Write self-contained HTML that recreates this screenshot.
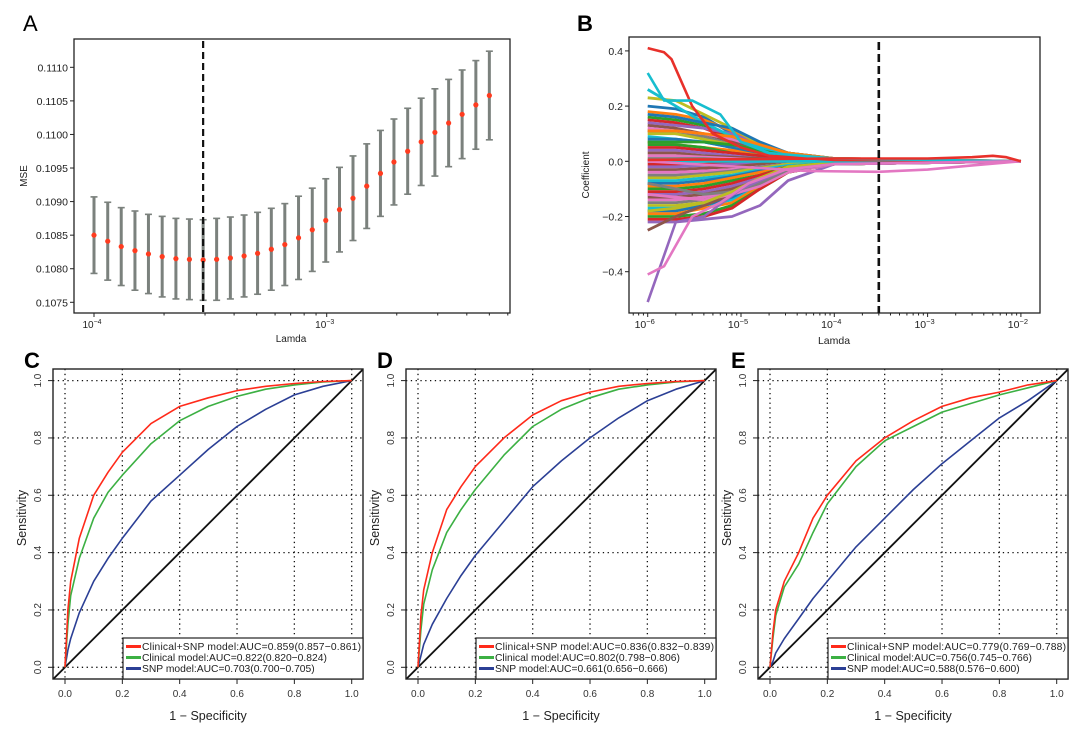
<!DOCTYPE html>
<html><head><meta charset="utf-8">
<style>
body{margin:0;background:#fff;}
svg{display:block;font-family:"Liberation Sans",sans-serif;}
</style></head>
<body>
<svg id="fig" width="1080" height="729" viewBox="0 0 1080 729">
<text x="23" y="31" font-size="22">A</text>
<text x="577" y="31" font-size="22" font-weight="bold">B</text>
<text x="24" y="368" font-size="22" font-weight="bold">C</text>
<text x="377" y="368" font-size="22" font-weight="bold">D</text>
<text x="731" y="368" font-size="22" font-weight="bold">E</text>
<g id="gA"></g>
<g id="gB"></g>
<g id="gC"></g>
<g id="gD"></g>
<g id="gE"></g>
</svg>
<script>
// ---------- Panel A data ----------
const aMSE = [0.10850,0.10841,0.10833,0.10827,0.10822,0.10818,0.10815,0.10814,0.10813,0.10814,0.10816,0.10819,0.10823,0.10829,0.10836,0.10846,0.10858,0.10872,0.10888,0.10905,0.10923,0.10942,0.10959,0.10975,0.10989,0.11003,0.11017,0.11030,0.11044,0.11058];
const aErr = [0.00057,0.00058,0.00058,0.00059,0.00059,0.00060,0.00060,0.00060,0.00060,0.00061,0.00061,0.00061,0.00061,0.00061,0.00061,0.00062,0.00062,0.00062,0.00063,0.00063,0.00063,0.00064,0.00064,0.00064,0.00065,0.00065,0.00065,0.00066,0.00066,0.00066];
const aLogLambda = [-4.000,-3.941,-3.883,-3.824,-3.766,-3.707,-3.648,-3.590,-3.531,-3.473,-3.414,-3.355,-3.297,-3.238,-3.180,-3.121,-3.062,-3.004,-2.945,-2.887,-2.828,-2.769,-2.711,-2.652,-2.594,-2.535,-2.476,-2.418,-2.359,-2.301];
const aYTicks = [0.1075,0.1080,0.1085,0.1090,0.1095,0.1100,0.1105,0.1110];
const aYTickLabels = ["0.1075","0.1080","0.1085","0.1090","0.1095","0.1100","0.1105","0.1110"];
const aBestLogLambda = -3.531;

// ---------- Panel B data ----------
const bLambdaGrid = [1e-6,2e-6,4e-6,8e-6,1.6e-5,3.2e-5,1e-4,1e-2];
const bPaths = [
[0.2,0.19,0.16,0.1,0.05,0.02,0.005,0],[0.18,0.17,0.15,0.11,0.06,0.03,0.01,0],[0.16,0.15,0.13,0.09,0.05,0.02,0.005,0],
[0.15,0.14,0.12,0.08,0.04,0.02,0.005,0],[0.14,0.13,0.12,0.1,0.06,0.03,0.01,0],[0.13,0.12,0.1,0.07,0.04,0.015,0.005,0],
[0.12,0.11,0.1,0.08,0.05,0.02,0.005,0],[0.11,0.1,0.09,0.06,0.03,0.01,0,0],[0.1,0.1,0.08,0.06,0.04,0.02,0.005,0],
[0.09,0.08,0.07,0.05,0.03,0.01,0,0],[0.08,0.08,0.07,0.05,0.02,0.01,0,0],[0.07,0.06,0.05,0.04,0.02,0.01,0,0],
[0.06,0.06,0.05,0.03,0.02,0.01,0,0],[0.05,0.05,0.04,0.03,0.02,0.005,0,0],[0.04,0.04,0.03,0.02,0.01,0.005,0,0],
[0.03,0.03,0.02,0.015,0.01,0,0,0],[0.02,0.02,0.015,0.01,0.005,0,0,0],[0.01,0.01,0.01,0.005,0,0,0,0],
[0.23,0.22,0.17,0.12,0.06,0.03,0.01,0],[0.26,0.2,0.14,0.09,0.05,0.02,0.005,0],[0.17,0.16,0.14,0.12,0.07,0.03,0.01,0],
[0.11,0.11,0.1,0.09,0.06,0.03,0.01,0],[0.07,0.07,0.07,0.06,0.04,0.02,0.005,0],
[-0.01,-0.01,-0.01,-0.005,0,0,0,0],[-0.02,-0.02,-0.015,-0.01,-0.005,0,0,0],[-0.03,-0.03,-0.025,-0.02,-0.01,0,0,0],
[-0.04,-0.04,-0.035,-0.03,-0.02,-0.01,0,0],[-0.05,-0.05,-0.045,-0.035,-0.02,-0.01,0,0],[-0.06,-0.06,-0.05,-0.04,-0.025,-0.01,0,0],
[-0.07,-0.07,-0.06,-0.05,-0.03,-0.015,-0.005,0],[-0.08,-0.08,-0.07,-0.055,-0.035,-0.02,-0.005,0],[-0.09,-0.09,-0.08,-0.06,-0.04,-0.02,-0.005,0],
[-0.1,-0.1,-0.09,-0.07,-0.05,-0.02,-0.005,0],[-0.11,-0.11,-0.1,-0.08,-0.05,-0.025,-0.005,0],[-0.12,-0.12,-0.11,-0.09,-0.06,-0.03,-0.01,0],
[-0.13,-0.13,-0.12,-0.1,-0.07,-0.03,-0.01,0],[-0.14,-0.14,-0.13,-0.11,-0.08,-0.03,-0.01,0],[-0.15,-0.15,-0.14,-0.12,-0.08,-0.03,-0.01,0],
[-0.16,-0.16,-0.15,-0.13,-0.09,-0.04,-0.01,0],[-0.17,-0.17,-0.16,-0.14,-0.09,-0.04,-0.01,0],[-0.18,-0.18,-0.16,-0.13,-0.08,-0.03,-0.01,0],
[-0.19,-0.19,-0.17,-0.15,-0.09,-0.04,-0.01,0],[-0.2,-0.2,-0.19,-0.16,-0.1,-0.04,-0.01,0],[-0.21,-0.21,-0.2,-0.17,-0.1,-0.04,-0.01,0],
[-0.22,-0.22,-0.21,-0.2,-0.16,-0.07,-0.01,0],[-0.25,-0.2,-0.16,-0.12,-0.08,-0.03,-0.01,0],[-0.12,-0.13,-0.14,-0.12,-0.09,-0.04,-0.01,0],
[-0.08,-0.1,-0.12,-0.11,-0.08,-0.03,-0.01,0],[-0.18,-0.17,-0.15,-0.11,-0.06,-0.02,-0.005,0],[0.0,0.0,0.0,0.0,0.0,0.0,0.0,0]
];
const bSpecialLambda = [[1e-6,1.5e-6,1.8e-6,3e-6,5e-6,1e-5,2e-5,1e-4,1e-2],[1e-6,1.5e-6,3e-6,6e-6,1e-5,2e-5,1e-4,1e-2],[1e-6,2e-6,4e-6,1e-5,3e-5,1e-4,1e-2],[1e-6,1.5e-6,3e-6,6e-6,1.2e-5,3e-5,1e-4,1e-2],[1e-6,3e-5,5e-5,3e-4,1e-3,3e-3,1e-2],[1e-6,1e-4,1e-3,3e-3,5e-3,7e-3,1e-2]];
const bSpecialValues = [[0.41,0.395,0.37,0.2,0.1,0.05,0.02,0.005,0],[0.32,0.22,0.22,0.17,0.07,0.03,0.01,0],[-0.51,-0.22,-0.2,-0.1,-0.03,-0.01,0],[-0.41,-0.38,-0.2,-0.15,-0.08,-0.03,-0.01,0],[0,-0.03,-0.035,-0.038,-0.03,-0.015,0],[0.005,0.01,0.01,0.015,0.02,0.015,0]];
const bSpecialColors = ["#e8302a","#17becf","#9467bd","#e377c2","#e377c2","#e8302a"];
const bYTicks = [-0.4,-0.2,0.0,0.2,0.4];
const bYTickLabels = ["\u22120.4","\u22120.2","0.0","0.2","0.4"];
const bXTickExp = [-6,-5,-4,-3,-2];
const bBestLambda = 3e-4;

// ---------- ROC data ----------
const rocFpr = [0,0.01,0.02,0.05,0.1,0.15,0.2,0.3,0.4,0.5,0.6,0.7,0.8,0.9,1];
const cTprCombined = [0,0.2,0.3,0.45,0.6,0.68,0.75,0.85,0.91,0.94,0.965,0.98,0.99,0.997,1];
const cTprClinical = [0,0.15,0.25,0.38,0.52,0.61,0.67,0.78,0.86,0.91,0.945,0.97,0.985,0.995,1];
const cTprSnp = [0,0.06,0.1,0.19,0.3,0.38,0.45,0.58,0.67,0.76,0.84,0.9,0.95,0.98,1];
const dTprCombined = [0,0.18,0.27,0.4,0.55,0.63,0.7,0.8,0.88,0.93,0.96,0.98,0.99,0.997,1];
const dTprClinical = [0,0.13,0.22,0.34,0.47,0.55,0.62,0.74,0.84,0.9,0.94,0.97,0.985,0.995,1];
const dTprSnp = [0,0.04,0.08,0.15,0.24,0.32,0.39,0.51,0.63,0.72,0.8,0.87,0.93,0.97,1];
const eTprCombined = [0,0.12,0.2,0.3,0.4,0.52,0.6,0.72,0.8,0.86,0.91,0.94,0.96,0.985,1];
const eTprClinical = [0,0.1,0.18,0.28,0.36,0.47,0.57,0.7,0.79,0.84,0.89,0.92,0.95,0.975,1];
const eTprSnp = [0,0.02,0.05,0.1,0.17,0.24,0.3,0.42,0.52,0.62,0.71,0.79,0.87,0.93,1];
const cLegend = ["Clinical+SNP model:AUC=0.859(0.857\u22120.861)","Clinical model:AUC=0.822(0.820\u22120.824)","SNP model:AUC=0.703(0.700\u22120.705)"];
const dLegend = ["Clinical+SNP model:AUC=0.836(0.832\u22120.839)","Clinical model:AUC=0.802(0.798\u22120.806)","SNP model:AUC=0.661(0.656\u22120.666)"];
const eLegend = ["Clinical+SNP model:AUC=0.779(0.769\u22120.788)","Clinical model:AUC=0.756(0.745\u22120.766)","SNP model:AUC=0.588(0.576\u22120.600)"];
const rocTicks = [0,0.2,0.4,0.6,0.8,1.0];
const rocTickLabels = ["0.0","0.2","0.4","0.6","0.8","1.0"];

const NS="http://www.w3.org/2000/svg";
function mk(parent,tag,attrs,text){const e=document.createElementNS(NS,tag);for(const k in attrs)e.setAttribute(k,attrs[k]);if(text!==undefined)e.textContent=text;parent.appendChild(e);return e;}

// ---------- Panel A ----------
(function(){
const g=document.getElementById('gA');
const xA=l=>94+(l+4)*232.7, yA=v=>302.3-(v-0.1075)/0.0005*33.57;
mk(g,'rect',{x:74,y:39,width:436,height:274,fill:'none',stroke:'#222','stroke-width':1.3});
aYTicks.forEach((t,i)=>{const y=yA(t);mk(g,'line',{x1:70,x2:74,y1:y,y2:y,stroke:'#222'});
 const tl=mk(g,'text',{x:68,y:y+4,'font-size':10.5,'text-anchor':'end',fill:'#222'},aYTickLabels[i]);
 });
for(let d=-4;d<=-2;d++){for(let m=1;m<10;m++){const l=d+Math.log10(m);const x=xA(l);if(x<74||x>510)continue;
 mk(g,'line',{x1:x,x2:x,y1:313,y2:m==1?317:315.5,stroke:'#222'});}}
[-4,-3].forEach(e=>{const t=mk(g,'text',{x:xA(e)-2,y:328,'font-size':10,'text-anchor':'middle',fill:'#222'},'10');
 mk(t,'tspan',{dy:-4,'font-size':7},'\u2212'+(-e));});
const xl=mk(g,'text',{x:291,y:342,'font-size':10,'text-anchor':'middle',fill:'#222'},'Lamda');

const yl=mk(g,'text',{x:0,y:0,'font-size':10,'text-anchor':'middle',fill:'#222',transform:'translate(27,176) rotate(-90)'},'MSE');

aMSE.forEach((v,i)=>{const x=xA(aLogLambda[i]);const y1=yA(v+aErr[i]),y2=yA(v-aErr[i]);
 const b=mk(g,'line',{x1:x,x2:x,y1:y1,y2:y2,stroke:'#7b817d','stroke-width':3});
 
 mk(g,'line',{x1:x-3.5,x2:x+3.5,y1:y1,y2:y1,stroke:'#7b817d','stroke-width':1.6});
 mk(g,'line',{x1:x-3.5,x2:x+3.5,y1:y2,y2:y2,stroke:'#7b817d','stroke-width':1.6});});
aMSE.forEach((v,i)=>{const c=mk(g,'circle',{cx:xA(aLogLambda[i]),cy:yA(v),r:2.6,fill:'#ff3b1f'});
 });
const dl=mk(g,'line',{x1:xA(aBestLogLambda),x2:xA(aBestLogLambda),y1:41,y2:313,stroke:'#111','stroke-width':2.2,'stroke-dasharray':'7,4'});

})();

// ---------- Panel B ----------
(function(){
const g=document.getElementById('gB');
const xB=l=>647.7+(Math.log10(l)+6)*93.3, yB=v=>161.3-v*276;
const cols=["#1f77b4","#ff7f0e","#2ca02c","#d62728","#9467bd","#8c564b","#e377c2","#7f7f7f","#bcbd22","#17becf"];
const clip=mk(g,'clipPath',{id:'clipB'});mk(clip,'rect',{x:630,y:38,width:409,height:274});
const lg=mk(g,'g',{'clip-path':'url(#clipB)'});
bPaths.forEach((p,i)=>{const pts=p.map((v,j)=>xB(bLambdaGrid[j]).toFixed(1)+','+yB(v).toFixed(1)).join(' ');
 const pl=mk(lg,'polyline',{points:pts,fill:'none',stroke:cols[i%10],'stroke-width':2.8,'stroke-linejoin':'round'});
 });
bSpecialValues.forEach((p,i)=>{const pts=p.map((v,j)=>xB(bSpecialLambda[i][j]).toFixed(1)+','+yB(v).toFixed(1)).join(' ');
 const pl=mk(lg,'polyline',{points:pts,fill:'none',stroke:bSpecialColors[i],'stroke-width':2.6,'stroke-linejoin':'round'});
 });
mk(g,'rect',{x:629,y:37,width:411,height:276,fill:'none',stroke:'#222','stroke-width':1.3});
bYTicks.forEach((t,i)=>{const y=yB(t);mk(g,'line',{x1:625,x2:629,y1:y,y2:y,stroke:'#222'});
 const tl=mk(g,'text',{x:623,y:y+4,'font-size':10.5,'text-anchor':'end',fill:'#222'},bYTickLabels[i]);
 });
for(let d=-7;d<=-2;d++){for(let m=1;m<10;m++){const v=m*Math.pow(10,d);const x=xB(v);if(x<629||x>1040)continue;
 mk(g,'line',{x1:x,x2:x,y1:313,y2:m==1?317:315.5,stroke:'#222'});}}
bXTickExp.forEach(e=>{const t=mk(g,'text',{x:xB(Math.pow(10,e))-3,y:328,'font-size':10.5,'text-anchor':'middle',fill:'#222'},'10');
 mk(t,'tspan',{dy:-4,'font-size':7.5},'\u2212'+(-e));});
const xl=mk(g,'text',{x:834,y:344,'font-size':10.5,'text-anchor':'middle',fill:'#222'},'Lamda');

const yl=mk(g,'text',{x:0,y:0,'font-size':10,'text-anchor':'middle',fill:'#222',transform:'translate(589,175) rotate(-90)'},'Coefficient');

const dl=mk(g,'line',{x1:xB(bBestLambda),x2:xB(bBestLambda),y1:42,y2:313,stroke:'#111','stroke-width':2.6,'stroke-dasharray':'8,4'});

})();

// ---------- ROC panels ----------
function roc(id,L,tprs,legend){
const g=document.getElementById(id);
const x0=L+12, sc=286.7, xR=v=>x0+v*sc, yR=v=>667.3-v*sc;
const cid='clip'+id;const clip=mk(g,'clipPath',{id:cid});mk(clip,'rect',{x:L,y:369,width:310,height:310});
rocTicks.forEach(t=>{mk(g,'line',{x1:xR(t),x2:xR(t),y1:369,y2:679,stroke:'#111','stroke-width':1.3,'stroke-dasharray':'1.3,3.5'});
 mk(g,'line',{x1:L,x2:L+310,y1:yR(t),y2:yR(t),stroke:'#111','stroke-width':1.3,'stroke-dasharray':'1.3,3.5'});});
const cg=mk(g,'g',{'clip-path':'url(#'+cid+')'});
const diag=mk(cg,'line',{x1:xR(-0.05),y1:yR(-0.05),x2:xR(1.05),y2:yR(1.05),stroke:'#111','stroke-width':1.8});

const cols=['#ff2a1a','#3cb043','#2b3f95'];const names=['combined-roc-curve','clinical-roc-curve','snp-roc-curve'];
[2,1,0].forEach(k=>{const t=tprs[k];const pts=rocFpr.map((f,j)=>xR(f).toFixed(1)+','+yR(t[j]).toFixed(1)).join(' ');
 const pl=mk(cg,'polyline',{points:pts,fill:'none',stroke:cols[k],'stroke-width':1.6,'stroke-linejoin':'round'});
 });
mk(g,'rect',{x:L,y:369,width:310,height:310,fill:'none',stroke:'#222','stroke-width':1.4});
rocTicks.forEach((t,i)=>{mk(g,'line',{x1:xR(t),x2:xR(t),y1:679,y2:684,stroke:'#222'});
 const tx=mk(g,'text',{x:xR(t),y:697,'font-size':10,'text-anchor':'middle',fill:'#333'},rocTickLabels[i]);
 
 mk(g,'line',{x1:L-5,x2:L,y1:yR(t),y2:yR(t),stroke:'#222'});
 const ty=mk(g,'text',{x:0,y:0,'font-size':10,'text-anchor':'middle',fill:'#333',transform:'translate('+(L-12)+','+yR(t)+') rotate(-90)'},rocTickLabels[i]);
 });
const xt=mk(g,'text',{x:L+155,y:720,'font-size':12.5,'text-anchor':'middle',fill:'#222'},'1 \u2212 Specificity');

const yt=mk(g,'text',{x:0,y:0,'font-size':12.5,'text-anchor':'middle',fill:'#222',transform:'translate('+(L-27)+',518) rotate(-90)'},'Sensitivity');

const lb=mk(g,'rect',{x:L+70,y:638,width:240,height:41,fill:'#fff',stroke:'#222','stroke-width':1.2});

const lc=['#ff2a1a','#3cb043','#2b3f95'];
legend.forEach((s,i)=>{const y=650+i*11;
 mk(g,'line',{x1:L+73,x2:L+88,y1:y-3.5,y2:y-3.5,stroke:lc[i],'stroke-width':3});
 const t=mk(g,'text',{x:L+89,y:y,'font-size':10.3,fill:'#222'},s);
 
 if(i===0)t.setAttribute('textLength','219');});
}
roc('gC',53,[cTprCombined,cTprClinical,cTprSnp],cLegend);
roc('gD',406,[dTprCombined,dTprClinical,dTprSnp],dLegend);
roc('gE',758,[eTprCombined,eTprClinical,eTprSnp],eLegend);
</script>
</body></html>
